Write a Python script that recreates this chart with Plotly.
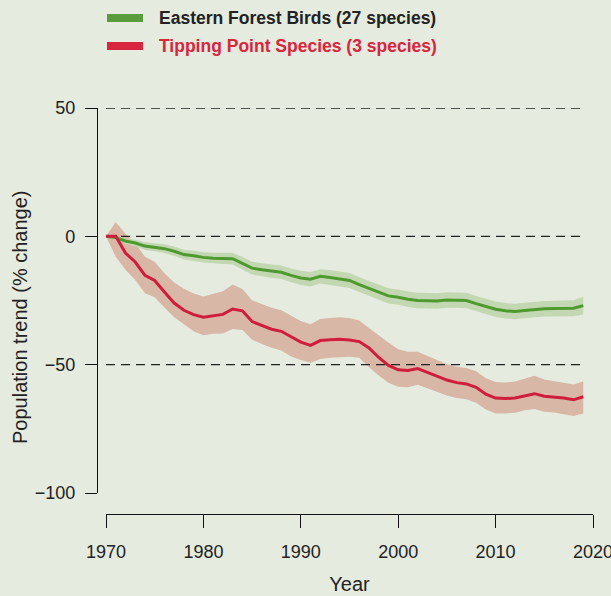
import plotly.graph_objects as go

# ---------------- data ----------------
years = list(range(1970, 2020))

forest_trend = [0, -0.5, -1.8, -2.6, -3.8, -4.2, -4.8, -5.8, -7.1, -7.6,
                -8.2, -8.5, -8.6, -8.7, -10.5, -12.4, -13.0, -13.5, -14.0, -15.2,
                -16.2, -16.7, -15.6, -16.0, -16.6, -17.2, -18.8, -20.3, -21.8, -23.2,
                -23.7, -24.5, -25.0, -25.2, -25.2, -24.8, -24.8, -25.0, -26.2, -27.3,
                -28.4, -29.0, -29.3, -28.9, -28.5, -28.2, -28.1, -28.0, -28.0, -27.0]
forest_upper = [0, 0.1, -0.8, -1.3, -2.3, -2.6, -3.1, -4.0, -5.2, -5.6,
                -6.2, -6.4, -6.4, -6.4, -8.1, -9.9, -10.5, -10.9, -11.4, -12.5,
                -13.4, -13.9, -12.8, -13.1, -13.7, -14.3, -15.9, -17.3, -18.8, -20.2,
                -20.7, -21.5, -22.0, -22.2, -22.2, -21.8, -21.8, -22.0, -23.2, -24.3,
                -25.4, -26.0, -26.3, -25.9, -25.5, -25.2, -25.1, -24.9, -24.9, -23.5]
forest_lower = [0, -1.1, -2.8, -3.9, -5.3, -5.8, -6.5, -7.6, -9.0, -9.6,
                -10.2, -10.6, -10.8, -11.0, -12.9, -14.9, -15.5, -16.1, -16.6, -17.9,
                -19.0, -19.5, -18.4, -18.9, -19.5, -20.1, -21.7, -23.3, -24.8, -26.2,
                -26.7, -27.5, -28.0, -28.2, -28.2, -27.8, -27.8, -28.0, -29.2, -30.3,
                -31.4, -32.0, -32.3, -31.9, -31.5, -31.2, -31.1, -31.1, -31.1, -30.5]

tipping_trend = [0, 0, -6.5, -10.0, -15.2, -17.2, -21.7, -26.0, -28.8, -30.5,
                 -31.5, -31.0, -30.4, -28.3, -29.0, -33.2, -34.8, -36.2, -37.0, -39.0,
                 -41.2, -42.5, -40.6, -40.3, -40.1, -40.4, -41.0, -43.5, -47.2, -50.3,
                 -52.0, -52.3, -51.5, -53.0, -54.5, -56.0, -57.0, -57.5, -58.8, -61.5,
                 -63.0, -63.2, -63.0, -62.0, -61.3, -62.3, -62.6, -63.0, -63.7, -62.5]
tipping_upper = [0, 5.6, 1.0, -2.7, -8.0, -9.9, -14.4, -18.0, -20.4, -22.3,
                 -23.4, -22.5, -21.4, -18.8, -20.5, -24.9, -26.4, -27.8, -28.8, -30.9,
                 -33.0, -34.3, -32.2, -31.8, -31.5, -31.8, -32.8, -35.7, -38.7, -41.4,
                 -44.0, -45.0, -45.0, -46.7, -48.3, -49.8, -50.8, -51.3, -52.6, -55.3,
                 -56.8, -56.9, -56.6, -55.4, -54.3, -55.8, -56.4, -56.9, -57.7, -56.5]
tipping_lower = [0, -8.0, -13.0, -17.0, -22.2, -23.7, -27.7, -31.5, -34.3, -37.0,
                 -38.5, -38.0, -37.9, -36.1, -36.5, -40.3, -41.9, -43.4, -44.5, -46.8,
                 -48.2, -49.3, -47.8, -47.3, -47.0, -46.9, -47.3, -51.0, -54.2, -57.0,
                 -58.6, -58.8, -57.8, -59.2, -60.5, -62.0, -63.0, -63.5, -64.8, -67.5,
                 -69.0, -69.0, -68.7, -67.8, -67.3, -68.3, -68.6, -69.2, -70.0, -69.0]

series_names = ["Eastern Forest Birds (27 species)", "Tipping Point Species (3 species)"]
y_ticks = [-100, -50, 0, 50]
y_tick_labels = ["\u2212100", "\u221250", "0", "50"]
x_ticks = [1970, 1980, 1990, 2000, 2010, 2020]
grid_levels = [50, 0, -50]

# ---------------- style ----------------
W, H = 611, 596
BG = "#e5ebdf"
GREEN = "#4e9a2f"
GREEN_BAND = "#c3d8b2"
RED = "#cf1d3b"
RED_BAND = "#d9b7a7"
LEG_RED = "#d7263d"
FONT = "Liberation Sans, Arial, Helvetica, sans-serif"
TXT = "#222222"


def px_x(p):
    return p / W


def px_y(p):
    return 1 - p / H


fig = go.Figure()

# bands
fig.add_trace(go.Scatter(
    x=years + years[::-1], y=tipping_upper + tipping_lower[::-1],
    fill="toself", fillcolor=RED_BAND, line=dict(width=0), mode="lines",
    hoverinfo="skip", showlegend=False))
fig.add_trace(go.Scatter(
    x=years + years[::-1], y=forest_upper + forest_lower[::-1],
    fill="toself", fillcolor=GREEN_BAND, line=dict(width=0), mode="lines",
    hoverinfo="skip", showlegend=False))

# dashed reference lines
for lvl in grid_levels:
    fig.add_trace(go.Scatter(
        x=[years[0], years[-1]], y=[lvl, lvl], mode="lines",
        line=dict(color="#222222", width=1.3, dash="9px,6px"),
        hoverinfo="skip", showlegend=False))

# trend lines
fig.add_trace(go.Scatter(x=years, y=forest_trend, mode="lines", name=series_names[0],
                         line=dict(color=GREEN, width=3), showlegend=False))
fig.add_trace(go.Scatter(x=years, y=tipping_trend, mode="lines", name=series_names[1],
                         line=dict(color=RED, width=3), showlegend=False))

# legend (drawn manually to match the layout)
legend_rows = [(18, "#5a9b3c", TXT), (46, LEG_RED, LEG_RED)]
shapes = []
annotations = []
for (yy, col, tcol), name in zip(legend_rows, series_names):
    shapes.append(dict(type="line", xref="paper", yref="paper",
                       x0=px_x(107), x1=px_x(143), y0=px_y(yy), y1=px_y(yy),
                       line=dict(color=col, width=8)))
    annotations.append(dict(xref="paper", yref="paper", x=px_x(157), y=px_y(yy),
                            text="<b>" + name + "</b>", showarrow=False,
                            xanchor="left", yanchor="middle",
                            font=dict(family=FONT, size=17.5, color=tcol)))

annotations.append(dict(xref="paper", yref="paper", x=px_x(20), y=px_y(317),
                        text="Population trend (% change)", textangle=-90,
                        showarrow=False, xanchor="center", yanchor="middle",
                        font=dict(family=FONT, size=20, color=TXT)))

fig.update_layout(
    width=W, height=H,
    paper_bgcolor=BG, plot_bgcolor=BG,
    margin=dict(l=0, r=0, t=0, b=0),
    showlegend=False,
    shapes=shapes, annotations=annotations,
    font=dict(family=FONT, color=TXT),
    xaxis=dict(
        domain=[px_x(106), px_x(593)], range=[1970, 2020],
        anchor="free", position=px_y(514),
        tickvals=x_ticks, ticks="outside", ticklen=13, tickwidth=1.3, tickcolor="#111",
        showline=True, linecolor="#111", linewidth=1.3,
        showgrid=False, zeroline=False,
        tickfont=dict(family=FONT, size=18, color=TXT),
        ticklabelstandoff=8, ticklabeloverflow="allow",
        title=dict(text="Year", font=dict(family=FONT, size=20, color=TXT), standoff=16),
        automargin=False,
    ),
    yaxis=dict(
        domain=[px_y(493), px_y(108)], range=[-100, 50],
        anchor="free", position=px_x(97),
        tickvals=y_ticks, ticktext=y_tick_labels,
        ticks="outside", ticklen=12, tickwidth=1.3, tickcolor="#111",
        showline=True, linecolor="#111", linewidth=1.3,
        showgrid=False, zeroline=False,
        tickfont=dict(family=FONT, size=18, color=TXT),
        ticklabelstandoff=6, ticklabeloverflow="allow",
        automargin=False,
    ),
)

fig.write_html(
    "out.html",
    config={"displayModeBar": False},
    post_script="document.body.style.margin='0';document.body.style.background='" + BG + "';",
)
